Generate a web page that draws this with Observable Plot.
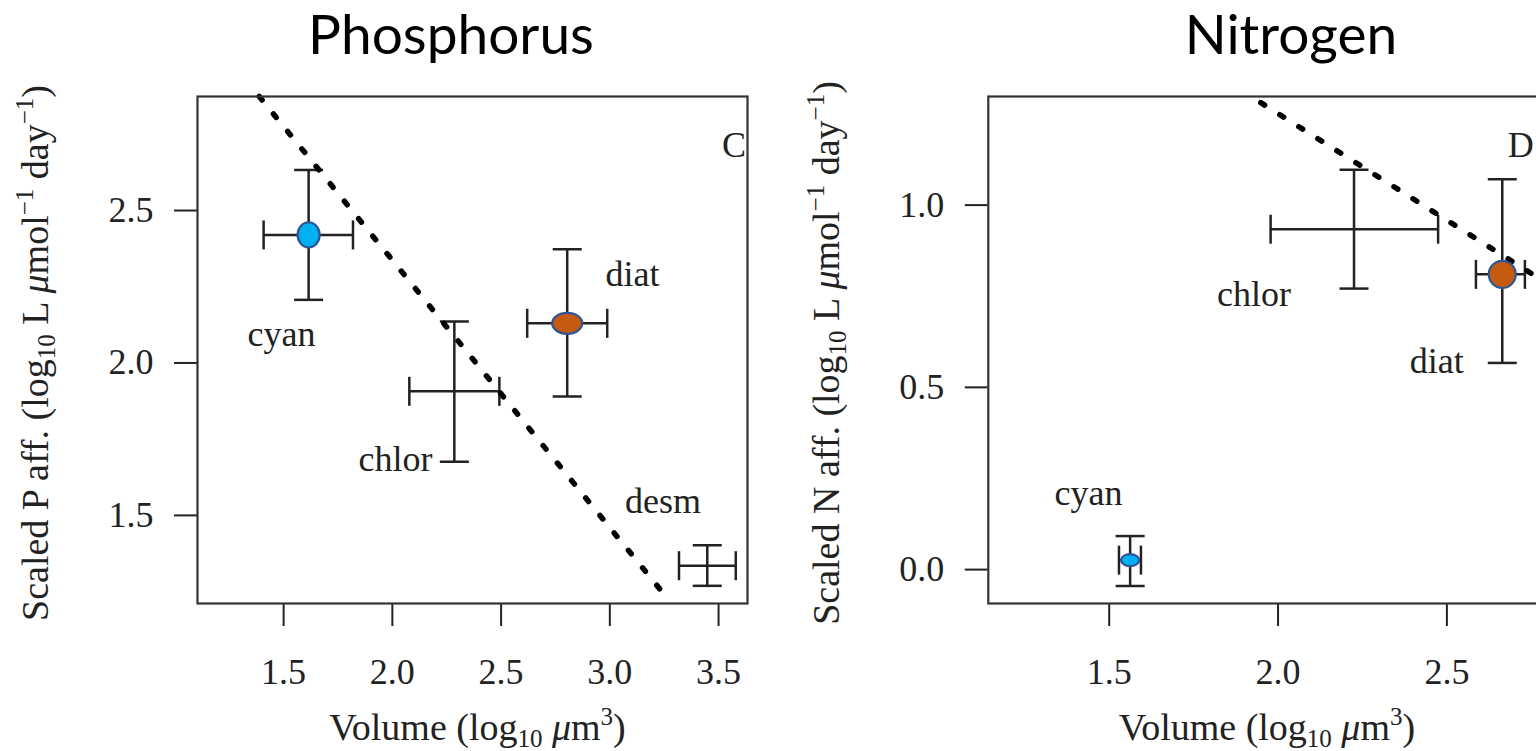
<!DOCTYPE html>
<html><head><meta charset="utf-8">
<script src="https://cdn.jsdelivr.net/npm/d3@7"></script>
<script src="https://cdn.jsdelivr.net/npm/@observablehq/plot@0.6"></script>
<style>
html,body{margin:0;padding:0;background:#fff;overflow:hidden;}
#wrap{position:relative;width:1536px;height:751px;overflow:hidden;background:#fff;}
.title{position:absolute;font-family:Lato,'Open Sans',sans-serif;font-size:55px;line-height:1;color:#000;white-space:nowrap;transform:translateX(-50%);}
.panel{position:absolute;top:80px;}
.panel svg{max-width:none !important;}
</style></head><body>
<div id="wrap">
  <div class="title" style="left:451px;top:6px">Phosphorus</div>
  <div class="title" style="left:1291px;top:6px">Nitrogen</div>
  <div class="panel" id="p1" style="left:0px;width:770px"></div>
  <div class="panel" id="p2" style="left:770px;width:800px"></div>
</div>
<script>
// ---------- Phosphorus panel (C) ----------
const pTaxa   = ["cyan", "chlor", "diat", "desm"];
const pVol    = [1.615, 2.285, 2.804, 3.448];
const pVolLo  = [1.408, 2.078, 2.620, 3.318];
const pVolHi  = [1.819, 2.492, 2.988, 3.579];
const pAff    = [2.420, 1.907, 2.130, 1.335];
const pAffLo  = [2.207, 1.676, 1.890, 1.269];
const pAffHi  = [2.633, 2.136, 2.373, 1.402];
const pFitVol = [1.388, 3.252];
const pFitAff = [2.874, 1.239];
const pLabelVol = [1.490, 2.014, 3.104, 3.244];
const pLabelAff = [2.094, 1.685, 2.290, 1.546];
const pXTicks = [1.5, 2.0, 2.5, 3.0, 3.5];
const pYTicks = [1.5, 2.0, 2.5];

// ---------- Nitrogen panel (D) ----------
const nTaxa   = ["cyan", "chlor", "diat"];
const nVol    = [1.562, 2.225, 2.664];
const nVolLo  = [1.529, 1.978, 2.586];
const nVolHi  = [1.594, 2.474, 2.731];
const nAff    = [0.026, 0.934, 0.810];
const nAffLo  = [-0.045, 0.771, 0.567];
const nAffHi  = [0.092, 1.097, 1.071];
const nFitVol = [1.949, 2.790];
const nFitAff = [1.281, 0.789];
const nLabelVol = [1.439, 1.929, 2.470];
const nLabelAff = [0.210, 0.754, 0.572];
const nXTicks = [1.5, 2.0, 2.5];
const nYTicks = [0.0, 0.5, 1.0];

const ink = "#222";
const edge = "#2F5597";

function ellipse(rx, ry) {
  const k = 0.5523;
  return {draw(c) {
    c.moveTo(rx, 0);
    c.bezierCurveTo(rx, ry * k, rx * k, ry, 0, ry);
    c.bezierCurveTo(-rx * k, ry, -rx, ry * k, -rx, 0);
    c.bezierCurveTo(-rx, -ry * k, -rx * k, -ry, 0, -ry);
    c.bezierCurveTo(rx * k, -ry, rx, -ry * k, rx, 0);
    c.closePath();
  }};
}
const hcap = {draw(c) { c.moveTo(-14.5, 0); c.lineTo(14.5, 0); }};
const vcap = {draw(c) { c.moveTo(0, -14.5); c.lineTo(0, 14.5); }};

function rich(svg, key, parts) {
  const el = Array.from(svg.querySelectorAll("text")).find(t => t.textContent === key);
  if (!el) return;
  const ns = "http://www.w3.org/2000/svg";
  el.textContent = "";
  let shift = 0;
  for (const [s, kind] of parts) {
    const t = document.createElementNS(ns, "tspan");
    let target = 0;
    if (kind === "sub") { target = 7; t.setAttribute("font-size", "25px"); }
    else if (kind === "sup") { target = -15; t.setAttribute("font-size", "25px"); }
    else if (kind === "it") { t.setAttribute("font-style", "italic"); }
    if (target - shift !== 0) t.setAttribute("dy", target - shift);
    shift = target;
    t.textContent = s;
    el.appendChild(t);
  }
}

function panel(o) {
  const rows = o.taxa.map((t, i) => ({taxon: t, x: o.vol[i], x1: o.volLo[i], x2: o.volHi[i], y: o.aff[i], y1: o.affLo[i], y2: o.affHi[i]}));
  const labels = o.taxa.map((t, i) => ({text: t, x: o.labelVol[i], y: o.labelAff[i]}));
  const fit = o.fitVol.map((v, i) => ({x: v, y: o.fitAff[i]}));
  const err = {stroke: ink, strokeWidth: 2.5};
  const svg = Plot.plot({
    width: o.width, height: 671,
    marginLeft: o.marginLeft, marginRight: o.marginRight, marginTop: 16, marginBottom: 148,
    style: {fontFamily: "'Liberation Serif', 'Times New Roman', serif", fontSize: "36px", color: ink, background: "transparent", overflow: "visible", maxWidth: "none"},
    x: {domain: o.xDomain, label: null},
    y: {domain: o.yDomain, label: null},
    marks: [
      Plot.axisX({ticks: o.xTicks, tickFormat: d3.format(".1f"), tickSize: 23, tickPadding: 32, strokeWidth: 2, label: null}),
      Plot.axisY({ticks: o.yTicks, tickFormat: d3.format(".1f"), tickSize: 23, tickPadding: 21, strokeWidth: 2, label: null}),
      Plot.ruleX(rows, {x: "x", y1: "y1", y2: "y2", ...err}),
      Plot.ruleY(rows, {y: "y", x1: "x1", x2: "x2", ...err}),
      Plot.dot(rows, {x: "x", y: "y1", symbol: hcap, fill: "none", ...err}),
      Plot.dot(rows, {x: "x", y: "y2", symbol: hcap, fill: "none", ...err}),
      Plot.dot(rows, {x: "x1", y: "y", symbol: vcap, fill: "none", ...err}),
      Plot.dot(rows, {x: "x2", y: "y", symbol: vcap, fill: "none", ...err}),
      Plot.line(fit, {x: "x", y: "y", stroke: "#000", strokeWidth: 5.5, strokeDasharray: "4.5,18", strokeLinecap: "round"}),
      Plot.dot(rows.filter(d => d.taxon === "cyan"), {x: "x", y: "y", symbol: o.cyanSym, fill: "#00B0F0", stroke: edge, strokeWidth: 2.2}),
      Plot.dot(rows.filter(d => d.taxon === "diat"), {x: "x", y: "y", symbol: o.diatSym, fill: "#C55A11", stroke: edge, strokeWidth: 2.2}),
      Plot.text(labels, {x: "x", y: "y", text: "text", textAnchor: "middle", lineAnchor: "middle", fill: ink}),
      Plot.text([o.tag], {x: o.tagVol, y: o.tagAff, text: d => d, textAnchor: o.tagAnchor, lineAnchor: "middle", fill: ink}),
      Plot.text(["__xtitle__"], {frameAnchor: "bottom", text: d => d, fontSize: 38, dy: 124, dx: o.xTitleDx, textAnchor: "middle", lineAnchor: "middle", fill: ink}),
      Plot.text(["__ytitle__"], {frameAnchor: "left", text: d => d, fontSize: 38, rotate: -90, dx: o.yTitleDx, dy: 3, textAnchor: "middle", lineAnchor: "middle", fill: ink}),
      Plot.frame({stroke: "#333", strokeWidth: 2.2})
    ]
  });
  rich(svg, "__xtitle__",
    [["Volume (log", "n"], ["10", "sub"], [" ", "n"], ["\u03bc", "it"], ["m", "n"], ["3", "sup"], [")", "n"]]);
  rich(svg, "__ytitle__",
    [[`Scaled ${o.nutrient} aff. (log`, "n"], ["10", "sub"], [" L ", "n"], ["\u03bc", "it"], ["mol", "n"], ["\u22121", "sup"], [" day", "n"], ["\u22121", "sup"], [")", "n"]]);
  return svg;
}

document.getElementById("p1").appendChild(panel({
  taxa: pTaxa, vol: pVol, volLo: pVolLo, volHi: pVolHi, aff: pAff, affLo: pAffLo, affHi: pAffHi,
  fitVol: pFitVol, fitAff: pFitAff, labelVol: pLabelVol, labelAff: pLabelAff,
  tag: "C", tagVol: 3.571, tagAff: 2.713, tagAnchor: "middle",
  xDomain: [1.104, 3.633], yDomain: [1.211, 2.874], xTicks: pXTicks, yTicks: pYTicks,
  width: 770, marginLeft: 197, marginRight: 23, xTitleDx: 5, yTitleDx: -162,
  cyanSym: ellipse(11, 12.5), diatSym: ellipse(15, 10.5), nutrient: "P"
}));
document.getElementById("p2").appendChild(panel({
  taxa: nTaxa, vol: nVol, volLo: nVolLo, volHi: nVolHi, aff: nAff, affLo: nAffLo, affHi: nAffHi,
  fitVol: nFitVol, fitAff: nFitAff, labelVol: nLabelVol, labelAff: nLabelAff,
  tag: "D", tagVol: 2.680, tagAff: 1.164, tagAnchor: "start",
  xDomain: [1.142, 2.792], yDomain: [-0.093, 1.298], xTicks: nXTicks, yTicks: nYTicks,
  width: 800, marginLeft: 217.8, marginRight: 25, xTitleDx: 0, yTitleDx: -161,
  cyanSym: ellipse(9, 6), diatSym: ellipse(13.5, 13.5), nutrient: "N"
}));
</script>
</body></html>
